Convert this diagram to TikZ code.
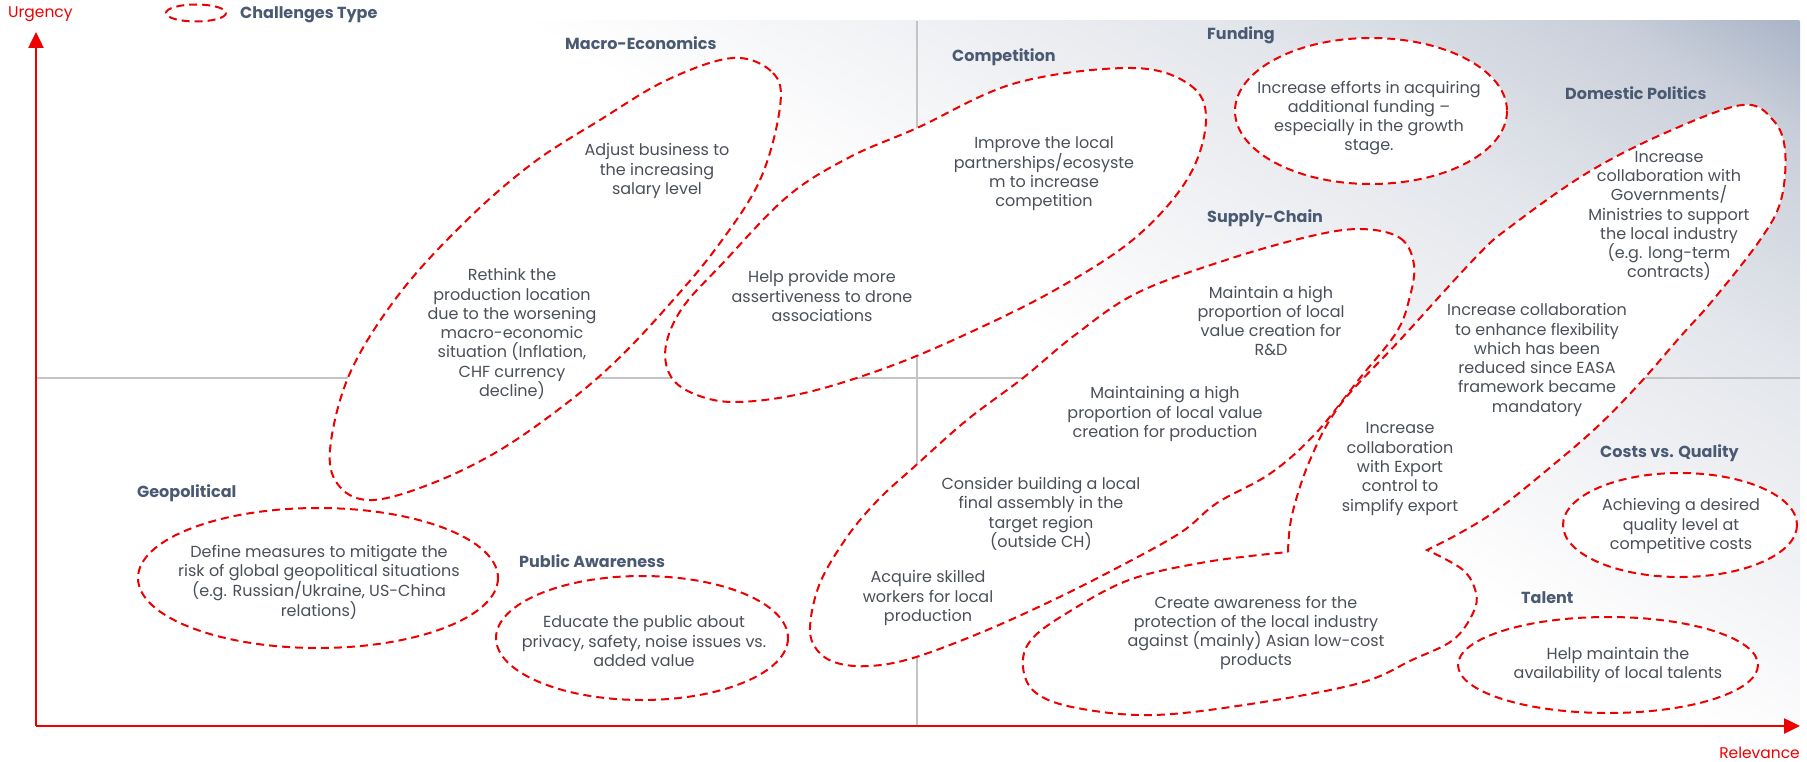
\documentclass[tikz,border=0pt]{standalone}
\usepackage{fontspec}
\setmainfont{Poppins}
\usetikzlibrary{arrows.meta,positioning}
\definecolor{axred}{HTML}{EE0000}
\definecolor{body}{HTML}{4A4F59}
\definecolor{slate}{HTML}{4A5A73}
\definecolor{gridgray}{HTML}{C4C4C4}
\definecolor{bgA}{HTML}{F0F1F4}
\definecolor{bgB}{HTML}{E3E6EB}
\definecolor{bgC}{HTML}{C9CFDA}
\definecolor{bgtop}{HTML}{A9B4C6}
\pgfdeclareverticalshading{bgfade}{100bp}{color(0bp)=(white); color(42bp)=(white); color(52bp)=(bgA); color(60bp)=(bgB); color(70bp)=(bgC); color(75bp)=(bgtop); color(100bp)=(bgtop)}

\begin{document}
\begin{tikzpicture}[x=1pt,y=-1pt,
  >={Triangle[length=16pt,width=15pt]},
  every node/.append style={text=body},
  item/.style={align=center, inner sep=0pt, font=\fontsize{16}{19.3}\selectfont},
  ctype/.style={anchor=west, inner sep=0pt, font=\fontsize{16}{18}\selectfont\bfseries, text=slate},
  axlabel/.style={inner sep=0pt, font=\fontsize{15.5}{18}\selectfont, text=axred},
  blob/.style={draw=axred, line width=2pt, dash pattern=on 8pt off 5pt, fill=white},
  gridline/.style={draw=gridgray, line width=1.3pt},
  axis/.style={draw=axred, line width=2.5pt},
]
\useasboundingbox (0,0) rectangle (1807,762);
\def\axx{36}
\def\axy{726}
% --- background fading towards the upper right corner ---
\begin{scope}
  \clip (\axx,21) rectangle (1800,\axy);
  \shade[shading=bgfade, transform canvas={rotate around={-31:(1800,21)}}] (-200,21) rectangle (3800,1021);
\end{scope}
% --- quadrant lines ---
\coordinate (origin) at (\axx,\axy);
\coordinate (ytip) at (\axx,32);
\coordinate (xtip) at (1800,\axy);
\coordinate (vtop) at (917,21);
\coordinate (vbot) at (917,\axy);
\coordinate (hleft) at (\axx,378);
\coordinate (hright) at (1800,378);
\draw[gridline] (vtop) -- (vbot);
\draw[gridline] (hleft) -- (hright);
% --- challenge areas ---
\draw[blob] plot[smooth cycle, tension=0.6] coordinates {(733,58) (773,73) (780,107) (760,180) (717,247) (667,307) (617,360) (567,403) (500,450) (433,483) (373,500) (340,487) (330,450) (350,373) (400,293) (467,220) (533,163) (600,120) (667,80)};
\draw[blob] plot[smooth cycle, tension=0.6] coordinates {(1132,68) (1190,85) (1206,120) (1188,178) (1135,238) (1055,290) (960,337) (880,370) (800,394) (733,402) (692,393) (670,375) (666,345) (683,307) (723,263) (788,196) (850,157) (917,128) (1016,83)};
\draw[blob] plot[smooth cycle, tension=0.6] coordinates {(1360,229) (1400,238) (1414,265) (1409,300) (1396,333) (1360,378) (1316,433) (1271,473) (1217,503) (1180,533) (1113,570) (1047,603) (980,633) (913,658) (870,666) (837,663) (817,650) (810,627) (820,583) (847,537) (878,500) (914,467) (967,420) (1023,378) (1075,335) (1137,293) (1226,260) (1307,237)};
\draw[blob] plot[smooth, tension=0.6] coordinates {(1288,552) (1292,515) (1310,460) (1340,405) (1400,340) (1476,257) (1510,227) (1587,173) (1665,133) (1742,105) (1773,120) (1785,150) (1781,200) (1760,240) (1713,300) (1680,337) (1640,383) (1597,427) (1547,470) (1497,510) (1460,533) (1427,550)}
  -- plot[smooth, tension=0.6] coordinates {(1427,550) (1463,570) (1476,593) (1473,613) (1453,640) (1412,660) (1360,683) (1257,703) (1154,715) (1077,708) (1036,693) (1023,667) (1031,640) (1067,613) (1129,580) (1206,562) (1288,552)} -- cycle;
\draw[blob] (1371,111) ellipse [x radius=136, y radius=73];
\draw[blob] (318,578) ellipse [x radius=180, y radius=70];
\draw[blob] (642,638) ellipse [x radius=146, y radius=62];
\draw[blob] (1680,525) ellipse [x radius=117, y radius=52];
\draw[blob] (1608,665) ellipse [x radius=150, y radius=48];
\draw[blob] (196,13) ellipse [x radius=30, y radius=8.5];
% --- challenge types ---
\node[ctype] (legend) at (240,15) {Challenges Type};
\node[ctype] (macro) at (565,43) {Macro-Economics};
\node[ctype] (compet) at (952,57) {Competition};
\node[ctype] (funding) at (1207,35) {Funding};
\node[ctype] (domestic) at (1565,93) {Domestic Politics};
\node[ctype] (supply) at (1207,218) {Supply-Chain};
\node[ctype] (geo) at (137,493) {Geopolitical};
\node[ctype] (public) at (519,561) {Public Awareness};
\node[ctype] (costs) at (1600,453) {Costs vs. Quality};
\node[ctype] (talent) at (1521,598) {Talent};
% --- measures ---
\node[item] (adjust) at (657,171) {Adjust business to\\the increasing\\salary level};
\node[item] (rethink) at (512,334) {Rethink the\\production location\\due to the worsening\\macro-economic\\situation (Inflation,\\CHF currency\\decline)};
\node[item] (improve) at (1044,174) {Improve the local\\partnerships/ecosyste\\m to increase\\competition};
\node[item] (assert) at (822,296) {Help provide more\\assertiveness to drone\\associations};
\node[item] (fundtxt) at (1369,118) {Increase efforts in acquiring\\additional funding --\\especially in the growth\\stage.};
\node[item] (govt) at (1669,216) {Increase\\collaboration with\\Governments/\\Ministries to support\\the local industry\\(e.g. long-term\\contracts)};
\node[item] (rnd) at (1271,321) {Maintain a high\\proportion of local\\value creation for\\R\&D};
\node[item] (prodval) at (1165,414) {Maintaining a high\\proportion of local value\\creation for production};
\node[item] (assembly) at (1041,514) {Consider building a local\\final assembly in the\\target region\\(outside CH)};
\node[item] (skilled) at (928,598) {Acquire skilled\\workers for local\\production};
\node[item] (easa) at (1537,360) {Increase collaboration\\to enhance flexibility\\which has been\\reduced since EASA\\framework became\\mandatory};
\node[item] (export) at (1400,469) {Increase\\collaboration\\with Export\\control to\\simplify export};
\node[item] (aware) at (1256,633) {Create awareness for the\\protection of the local industry\\against (mainly) Asian low-cost\\products};
\node[item] (quality) at (1681,526) {Achieving a desired\\quality level at\\competitive costs};
\node[item] (talents) at (1618,665) {Help maintain the\\availability of local talents};
\node[item] (mitigate) at (319,582) {Define measures to mitigate the\\risk of global geopolitical situations\\(e.g. Russian/Ukraine, US-China\\relations)};
\node[item] (educate) at (644,641) {Educate the public about\\privacy, safety, noise issues vs.\\added value};
% --- axes ---
\draw[axis,->] (origin) -- (ytip);
\draw[axis,->] (origin) -- (xtip);
\node[axlabel, anchor=west] (urgency) at (8,14) {Urgency};
\node[axlabel, anchor=east] (relevance) at (1800,753) {Relevance};
\end{tikzpicture}
\end{document}
